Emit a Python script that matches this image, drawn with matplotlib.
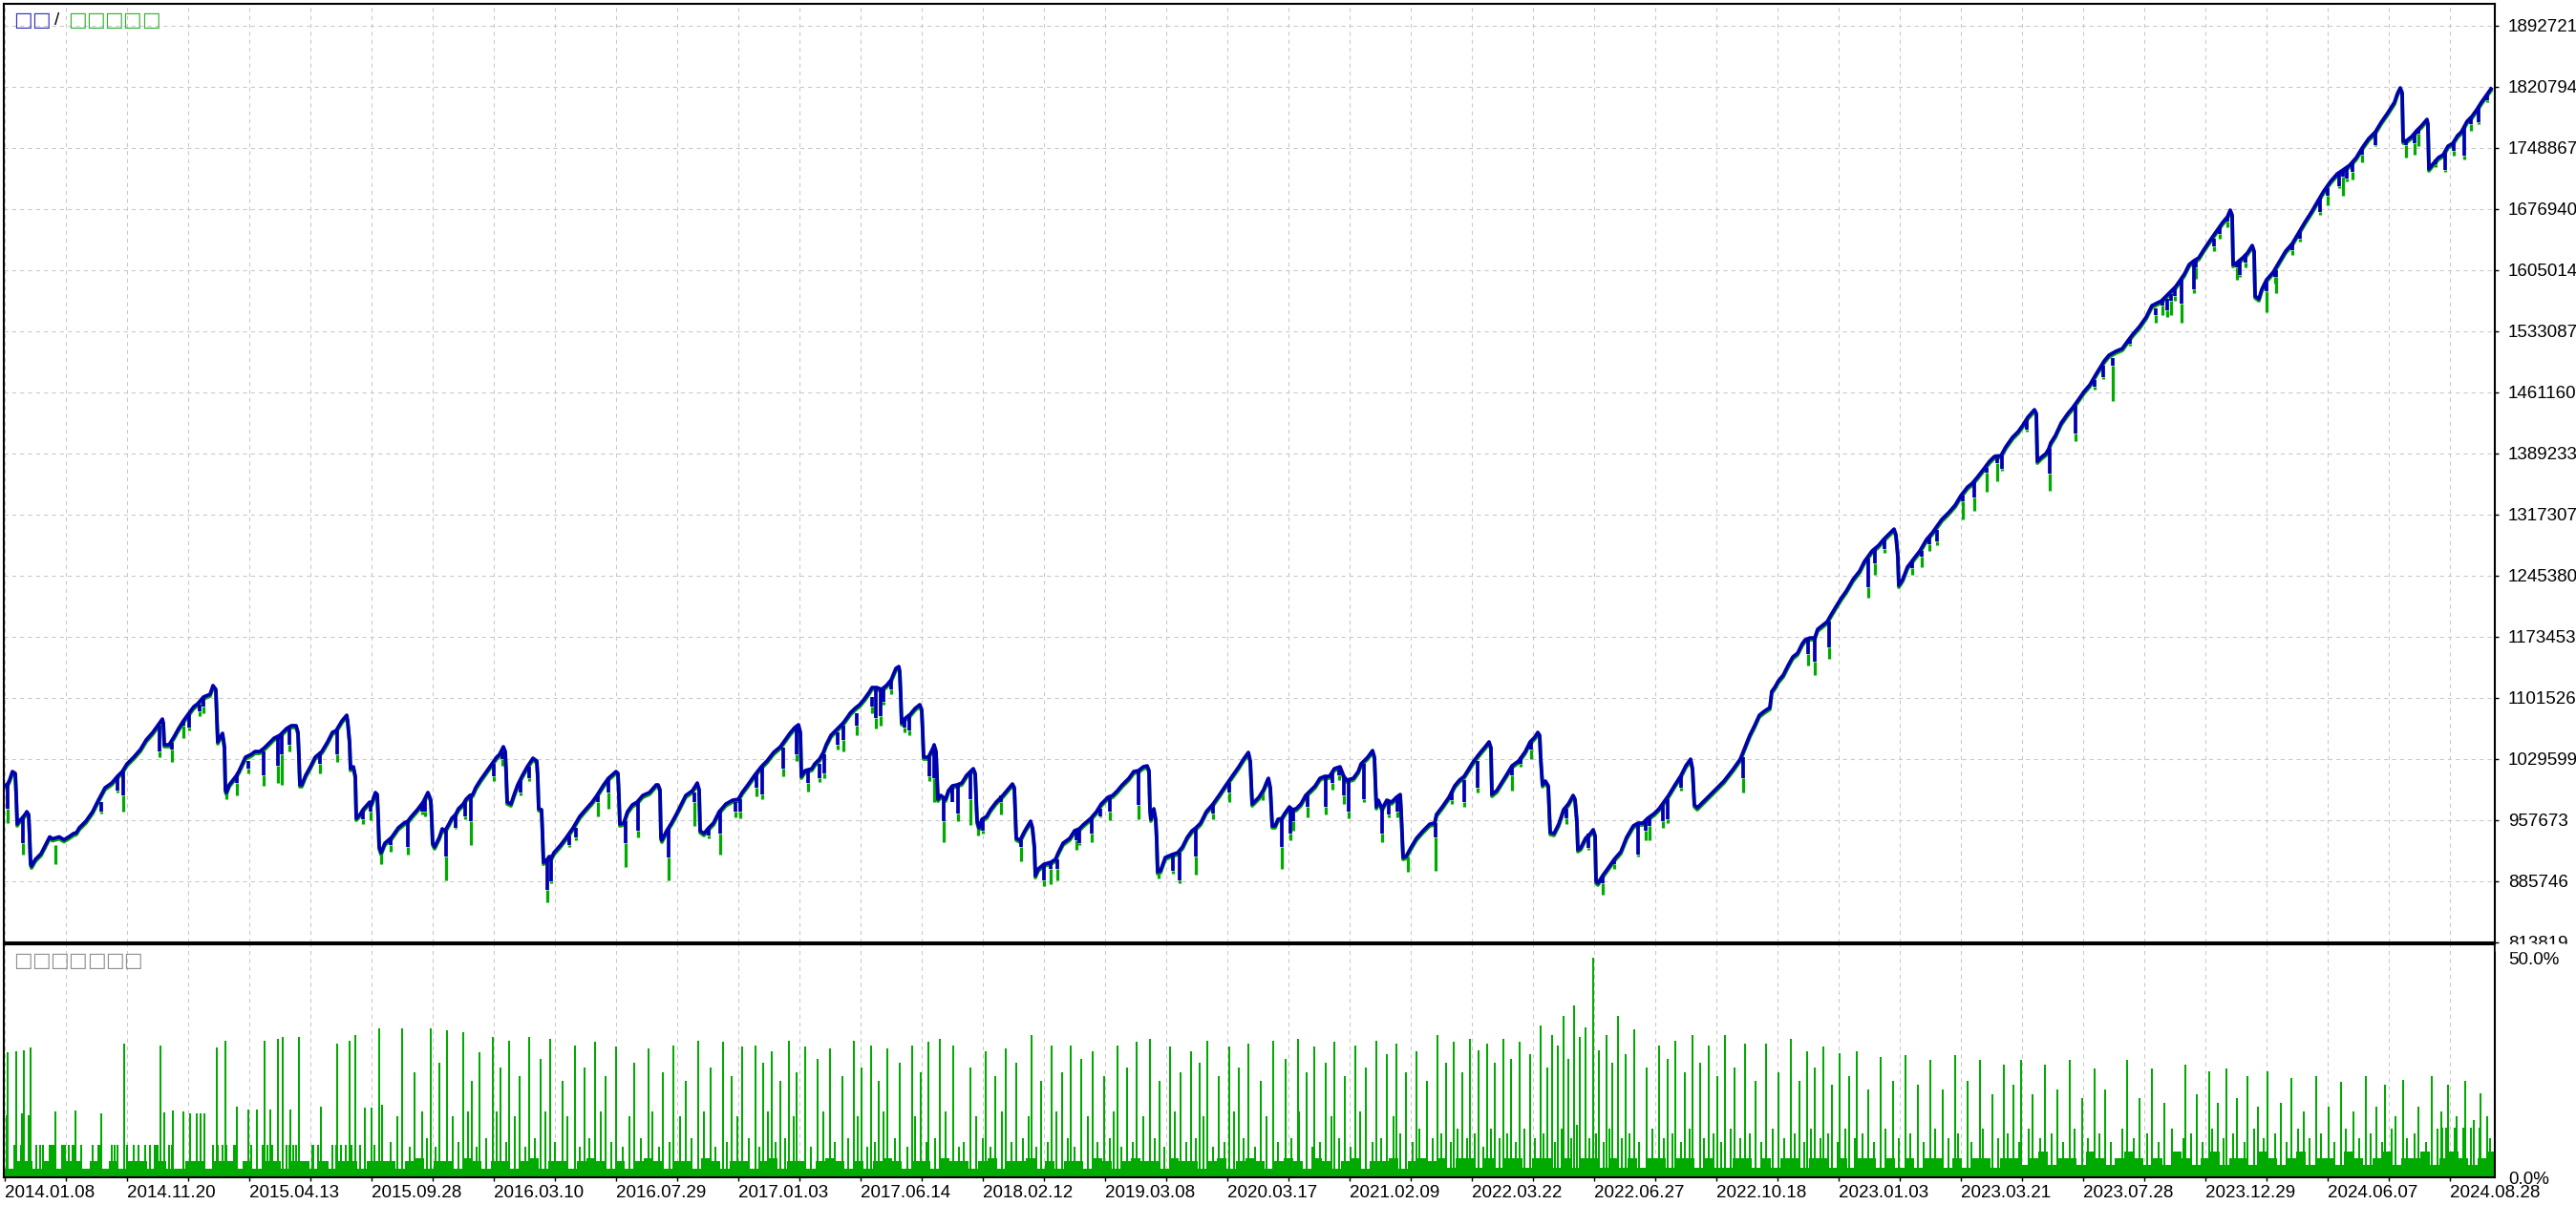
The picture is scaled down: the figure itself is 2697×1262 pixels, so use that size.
import matplotlib
matplotlib.use("Agg")
import matplotlib.pyplot as plt
from matplotlib import transforms
from matplotlib.patches import Rectangle

plt.rcParams['font.family'] = ['Liberation Sans', 'DejaVu Sans']

# ---------------- data ----------------
date_labels = ["2014.01.08", "2014.11.20", "2015.04.13", "2015.09.28", "2016.03.10",
               "2016.07.29", "2017.01.03", "2017.06.14", "2018.02.12", "2019.03.08",
               "2020.03.17", "2021.02.09", "2022.03.22", "2022.06.27", "2022.10.18",
               "2023.01.03", "2023.03.21", "2023.07.28", "2023.12.29", "2024.06.07",
               "2024.08.28"]
balance_ticks = [813819, 885746, 957673, 1029599, 1101526, 1173453, 1245380, 1317307,
                 1389233, 1461160, 1533087, 1605014, 1676940, 1748867, 1820794, 1892721]
load_ticks = [0.0, 50.0]
load_tick_labels = ["0.0%", "50.0%"]

# balance curve: (trade number, balance in thousands)
balance_points = [
    (0, 998.9), (3, 997.8), (6, 1004.5), (9, 1014.6), (12, 1012.4), (13, 986.5), (14, 952.8),
    (16, 956.2), (19, 959.6), (23, 965.2), (24, 967.4), (26, 964.0), (27, 939.3), (28, 906.6),
    (29, 903.2), (33, 911.1), (39, 917.9), (48, 937.7), (51, 935.4), (58, 937.7), (63, 934.3),
    (68, 937.7), (73, 941.6), (76, 942.7), (79, 948.3), (86, 956.2), (93, 967.4), (99, 980.9),
    (106, 995.5), (113, 1001.1), (119, 1009.0), (124, 1014.6), (129, 1023.6), (136, 1031.5),
    (143, 1040.5), (149, 1051.7), (156, 1060.7), (161, 1068.6), (166, 1076.4), (167, 1071.9),
    (168, 1046.1), (173, 1046.1), (178, 1055.1), (183, 1065.2), (188, 1074.2), (193, 1082.0),
    (199, 1091.0), (203, 1094.4), (209, 1102.3), (216, 1105.6), (219, 1115.8), (222, 1111.3),
    (223, 1082.0), (224, 1049.5), (226, 1053.9), (229, 1059.6), (231, 1043.8), (232, 993.3),
    (233, 989.9), (236, 998.9), (243, 1009.0), (246, 1014.6), (253, 1031.5), (259, 1034.8),
    (263, 1038.2), (268, 1038.2), (273, 1042.7), (279, 1049.5), (283, 1053.9), (289, 1057.3),
    (296, 1065.2), (301, 1068.6), (306, 1068.6), (308, 1060.7), (309, 1032.6), (310, 998.9),
    (312, 998.9), (316, 1010.1), (321, 1020.2), (326, 1031.5), (333, 1038.2), (339, 1049.5),
    (344, 1060.7), (348, 1062.9), (354, 1074.2), (359, 1080.9), (360, 1074.2), (362, 1049.5),
    (363, 1018.0), (366, 1020.2), (368, 1009.0), (369, 959.5), (373, 964.1), (376, 969.7),
    (383, 978.6), (385, 976.4), (389, 989.9), (391, 987.6), (392, 959.5), (393, 925.8),
    (395, 919.1), (399, 930.3), (406, 937.1), (413, 948.3), (419, 953.9), (423, 956.2),
    (426, 960.7), (433, 969.7), (439, 978.6), (444, 989.9), (446, 984.3), (447, 981.0),
    (448, 959.5), (449, 930.3), (451, 925.8), (456, 937.1), (459, 947.2), (462, 944.9),
    (466, 952.8), (469, 959.5), (473, 964.1), (476, 970.8), (481, 976.4), (484, 982.0),
    (488, 986.5), (491, 987.6), (494, 995.5), (499, 1004.5), (504, 1012.4), (509, 1020.2),
    (516, 1031.5), (519, 1034.8), (523, 1043.8), (525, 1038.2), (526, 1012.4), (527, 978.6),
    (531, 976.4), (534, 986.5), (538, 998.9), (543, 1010.1), (548, 1020.2), (554, 1030.3),
    (558, 1027.0), (559, 1009.0), (560, 970.8), (563, 969.7), (564, 941.6), (565, 907.7),
    (569, 911.2), (571, 914.5), (574, 914.5), (576, 919.1), (583, 928.1), (589, 937.1),
    (596, 948.3), (603, 961.8), (609, 969.7), (616, 978.6), (621, 986.5), (628, 998.9),
    (633, 1006.7), (641, 1014.6), (643, 1012.4), (644, 986.5), (645, 952.8), (649, 953.9),
    (653, 967.4), (658, 975.3), (663, 978.6), (669, 986.5), (676, 989.9), (683, 998.9),
    (685, 998.9), (687, 993.3), (688, 937.1), (689, 933.7), (694, 944.9), (699, 953.9),
    (704, 964.1), (709, 975.3), (714, 986.5), (721, 992.1), (726, 1001.1), (728, 993.3),
    (729, 944.9), (733, 941.6), (738, 948.3), (743, 953.9), (749, 967.4), (756, 976.4),
    (763, 980.9), (769, 982.0), (773, 989.9), (779, 998.9), (786, 1010.1), (793, 1020.2),
    (799, 1027.0), (806, 1037.1), (813, 1043.8), (818, 1051.7), (823, 1059.6), (828, 1066.3),
    (832, 1069.7), (834, 1060.7), (835, 1009.0), (839, 1015.7), (846, 1018.0), (849, 1023.6),
    (854, 1029.2), (858, 1037.1), (861, 1046.1), (866, 1057.3), (873, 1065.2), (879, 1072.0),
    (884, 1079.8), (886, 1083.2), (891, 1088.8), (896, 1093.3), (901, 1100.0), (906, 1107.9),
    (909, 1113.5), (914, 1113.5), (919, 1111.3), (924, 1115.8), (929, 1122.5), (934, 1136.0),
    (937, 1138.2), (938, 1132.6), (939, 1105.6), (940, 1071.9), (944, 1077.5), (949, 1082.0),
    (954, 1088.8), (959, 1093.3), (961, 1087.7), (962, 1062.9), (963, 1031.5), (968, 1031.5),
    (973, 1042.7), (974, 1046.1), (976, 1038.2), (978, 982.0), (981, 986.5), (986, 982.0),
    (989, 992.1), (993, 997.7), (998, 998.9), (1003, 1001.1), (1008, 1010.1), (1013, 1015.7),
    (1015, 1018.0), (1017, 1012.4), (1019, 956.2), (1021, 948.3), (1024, 958.4), (1029, 961.8),
    (1033, 969.7), (1039, 978.6), (1046, 986.5), (1051, 993.3), (1056, 1000.0), (1058, 995.5),
    (1059, 964.1), (1060, 936.0), (1064, 933.7), (1069, 944.9), (1075, 956.2), (1077, 948.3),
    (1079, 925.8), (1080, 892.0), (1083, 899.9), (1089, 905.5), (1096, 907.7), (1101, 911.2),
    (1104, 919.1), (1109, 930.3), (1116, 936.0), (1121, 944.9), (1126, 947.2), (1131, 952.8),
    (1138, 959.5), (1144, 967.4), (1149, 976.4), (1156, 984.3), (1161, 986.5), (1166, 992.1),
    (1171, 998.9), (1178, 1006.7), (1183, 1014.6), (1188, 1015.7), (1193, 1020.2), (1197, 1021.3),
    (1199, 1015.7), (1200, 969.7), (1201, 958.4), (1204, 970.8), (1206, 958.4), (1207, 936.0),
    (1208, 896.6), (1211, 897.7), (1216, 913.4), (1223, 916.8), (1229, 919.1), (1234, 925.8),
    (1239, 937.1), (1244, 944.9), (1248, 948.3), (1253, 953.9), (1259, 967.4), (1266, 976.4),
    (1273, 987.6), (1279, 997.7), (1286, 1009.0), (1293, 1020.2), (1298, 1029.2), (1303, 1037.1),
    (1305, 1027.0), (1307, 976.4), (1309, 978.6), (1314, 984.3), (1319, 993.3), (1323, 1004.5),
    (1324, 1006.7), (1326, 995.5), (1328, 950.6), (1331, 950.6), (1334, 958.4), (1338, 959.5),
    (1341, 965.2), (1346, 973.0), (1349, 969.7), (1353, 970.8), (1358, 976.4), (1363, 986.5),
    (1368, 992.1), (1373, 997.7), (1378, 1006.7), (1383, 1009.0), (1388, 1009.0), (1393, 1018.0),
    (1399, 1020.2), (1403, 1009.0), (1406, 1004.5), (1413, 1006.7), (1418, 1014.6), (1421, 1023.6),
    (1428, 1031.5), (1433, 1039.3), (1435, 1031.5), (1437, 973.0), (1439, 980.9), (1443, 970.8),
    (1448, 980.9), (1453, 978.6), (1458, 984.3), (1462, 987.6), (1463, 967.4), (1465, 913.4),
    (1468, 914.5), (1473, 924.7), (1479, 936.0), (1486, 944.9), (1493, 952.8), (1498, 953.9),
    (1500, 964.1), (1506, 973.0), (1513, 984.3), (1519, 997.7), (1524, 1004.5), (1529, 1009.0),
    (1534, 1018.0), (1539, 1027.0), (1546, 1037.1), (1551, 1043.8), (1555, 1049.5), (1557, 1042.7),
    (1558, 987.6), (1563, 992.1), (1568, 1001.1), (1573, 1010.1), (1579, 1021.3), (1586, 1027.0),
    (1593, 1038.2), (1598, 1049.5), (1603, 1055.1), (1606, 1060.7), (1608, 1057.3), (1609, 1031.5),
    (1611, 998.9), (1614, 1003.4), (1617, 997.7), (1619, 942.7), (1623, 941.6), (1628, 952.8),
    (1633, 969.7), (1638, 976.4), (1643, 986.5), (1645, 982.0), (1647, 956.2), (1648, 922.5),
    (1651, 924.7), (1656, 936.0), (1661, 941.6), (1664, 946.1), (1666, 939.3), (1667, 885.4),
    (1669, 883.2), (1674, 892.2), (1679, 899.9), (1686, 911.2), (1693, 920.2), (1699, 937.1),
    (1706, 950.6), (1711, 953.9), (1716, 953.9), (1721, 959.5), (1728, 965.2), (1733, 970.8),
    (1738, 978.6), (1743, 986.5), (1749, 997.7), (1756, 1010.1), (1761, 1021.3), (1766, 1029.2),
    (1768, 1018.0), (1770, 975.3), (1773, 971.9), (1781, 980.9), (1791, 992.1), (1801, 1003.4),
    (1811, 1018.0), (1818, 1029.2), (1824, 1046.1), (1828, 1057.3), (1833, 1068.6), (1838, 1080.9),
    (1843, 1085.4), (1849, 1089.9), (1851, 1109.0), (1854, 1113.5), (1858, 1121.4), (1863, 1128.1),
    (1868, 1139.3), (1873, 1149.4), (1878, 1153.9), (1883, 1165.2), (1886, 1169.7), (1891, 1171.9),
    (1896, 1171.9), (1899, 1182.0), (1904, 1186.5), (1909, 1191.0), (1913, 1198.9), (1919, 1210.1),
    (1924, 1219.1), (1929, 1227.0), (1936, 1240.5), (1943, 1250.6), (1948, 1261.8), (1956, 1274.2),
    (1963, 1280.9), (1968, 1287.7), (1974, 1294.4), (1979, 1300.0), (1981, 1293.3), (1983, 1268.6),
    (1984, 1233.7), (1988, 1240.5), (1993, 1255.1), (1999, 1264.1), (2006, 1274.2), (2013, 1287.7),
    (2019, 1295.5), (2029, 1311.3), (2036, 1319.1), (2043, 1328.1), (2049, 1339.4), (2056, 1349.5),
    (2061, 1354.0), (2066, 1360.7), (2073, 1370.8), (2079, 1379.8), (2084, 1385.4), (2091, 1386.5),
    (2096, 1396.7), (2103, 1407.9), (2109, 1414.7), (2114, 1422.5), (2119, 1431.5), (2126, 1440.5),
    (2128, 1436.0), (2129, 1379.8), (2133, 1384.3), (2138, 1388.8), (2141, 1394.4), (2143, 1401.2),
    (2148, 1410.2), (2154, 1424.8), (2161, 1436.0), (2166, 1442.8), (2171, 1450.6), (2178, 1461.9),
    (2184, 1469.7), (2191, 1483.2), (2196, 1492.2), (2199, 1497.8), (2204, 1504.6), (2211, 1509.1),
    (2218, 1512.4), (2223, 1520.3), (2229, 1529.3), (2236, 1538.3), (2243, 1549.5), (2249, 1563.0),
    (2259, 1568.6), (2266, 1576.5), (2274, 1585.5), (2283, 1600.1), (2288, 1611.3), (2293, 1615.8),
    (2298, 1619.2), (2303, 1628.2), (2309, 1638.3), (2316, 1649.5), (2323, 1660.8), (2328, 1667.5),
    (2331, 1675.4), (2333, 1669.7), (2334, 1611.3), (2338, 1613.6), (2344, 1619.2), (2349, 1624.9),
    (2354, 1633.8), (2356, 1627.1), (2357, 1574.2), (2361, 1570.9), (2364, 1582.1), (2369, 1593.4),
    (2376, 1602.4), (2383, 1615.8), (2389, 1627.1), (2396, 1636.1), (2403, 1649.5), (2409, 1660.8),
    (2416, 1673.1), (2423, 1686.6), (2429, 1697.9), (2436, 1709.1), (2443, 1718.1), (2449, 1722.6),
    (2456, 1728.2), (2463, 1737.2), (2469, 1748.4), (2476, 1759.6), (2483, 1767.5), (2489, 1778.7),
    (2496, 1790.0), (2503, 1802.4), (2506, 1812.5), (2509, 1819.3), (2511, 1813.7), (2512, 1756.4),
    (2516, 1757.5), (2521, 1762.0), (2526, 1768.7), (2531, 1774.3), (2537, 1782.2), (2538, 1776.6),
    (2539, 1723.8), (2543, 1729.4), (2549, 1737.2), (2554, 1740.6), (2559, 1750.7), (2564, 1754.1),
    (2569, 1763.1), (2573, 1767.5), (2579, 1780.0), (2584, 1785.6), (2589, 1793.5), (2594, 1802.4),
    (2599, 1810.3), (2604, 1818.2),
]

# intra-trade dips: (trade, level before, balance low, equity low), thousands
dips = [
    (4, 1001.1, 970.8, 953.9), (20, 959.5, 930.3, 916.8), (54, 928.1, 928.1, 905.5),
    (102, 978.6, 967.4, 965.1), (119, 1009.0, 992.1, 989.9), (125, 1014.6, 986.5, 967.4),
    (163, 1068.6, 1038.2, 1031.5), (176, 1048.3, 1040.5, 1025.8), (188, 1074.2, 1068.6, 1053.9),
    (194, 1082.0, 1066.3, 1062.9), (205, 1093.3, 1085.4, 1079.8), (209, 1102.3, 1091.0, 1083.2),
    (233, 989.9, 989.9, 982.0), (244, 1010.1, 1001.1, 986.5), (256, 1026.9, 1018.0, 1012.4),
    (272, 1038.2, 1010.1, 997.7), (287, 1055.1, 1021.3, 1001.1), (291, 1057.3, 1034.8, 998.9),
    (299, 1065.2, 1046.1, 1038.2), (331, 1034.8, 1023.6, 1012.4), (349, 1062.9, 1034.8, 1025.8),
    (376, 969.7, 958.4, 952.8), (384, 976.4, 967.4, 957.3), (395, 919.1, 919.1, 905.5),
    (405, 937.1, 928.1, 920.2), (423, 956.2, 925.8, 916.8), (438, 975.3, 967.4, 964.0),
    (441, 982.0, 967.4, 961.8), (463, 944.9, 914.5, 886.4), (473, 964.0, 948.3, 947.2),
    (483, 978.6, 961.8, 958.4), (489, 986.5, 956.2, 928.1), (513, 1023.6, 1009.0, 1003.4),
    (522, 1037.1, 1029.2, 1021.3), (541, 1003.4, 989.9, 986.5), (550, 1020.2, 1006.7, 1003.4),
    (569, 911.2, 875.2, 860.6), (573, 914.5, 885.4, 883.1), (592, 939.3, 928.1, 925.8),
    (599, 948.3, 937.1, 933.7), (622, 986.5, 978.6, 961.8), (633, 1006.7, 989.9, 970.8),
    (651, 956.2, 930.3, 902.2), (664, 978.6, 944.9, 937.1), (696, 947.2, 913.4, 886.4),
    (723, 989.9, 978.6, 950.5), (738, 948.3, 939.3, 935.9), (750, 967.4, 941.6, 916.8),
    (766, 978.6, 967.4, 960.6), (771, 982.0, 967.4, 959.5), (788, 1012.4, 995.5, 985.4),
    (794, 1020.2, 987.6, 982.0), (816, 1042.7, 1018.0, 1009.0), (830, 1068.6, 1034.8, 1026.9),
    (842, 1015.7, 1001.1, 991.0), (854, 1023.6, 1006.7, 1002.2), (859, 1034.8, 1012.4, 1006.7),
    (873, 1060.7, 1046.1, 1040.4), (879, 1068.6, 1051.7, 1038.2), (893, 1083.1, 1068.6, 1057.3),
    (909, 1102.3, 1091.0, 1083.2), (913, 1113.5, 1077.5, 1065.2), (918, 1113.5, 1079.8, 1068.6),
    (921, 1111.2, 1096.6, 1093.3), (929, 1122.5, 1111.2, 1105.6), (943, 1076.4, 1066.3, 1060.7),
    (948, 1079.8, 1062.9, 1057.3), (969, 1031.5, 1009.0, 1003.4), (974, 1042.7, 1006.7, 978.6),
    (984, 982.0, 956.2, 931.4), (993, 995.5, 978.6, 978.6), (999, 998.9, 965.1, 956.2),
    (1012, 1014.6, 982.0, 951.6), (1020, 948.3, 948.3, 939.3), (1025, 958.4, 944.9, 941.5),
    (1044, 986.5, 978.6, 964.0), (1065, 933.7, 925.8, 908.9), (1089, 905.5, 886.4, 879.7),
    (1096, 907.8, 899.9, 882.0), (1103, 911.2, 899.9, 886.4), (1123, 944.9, 933.7, 922.4),
    (1126, 947.2, 930.3, 928.1), (1139, 959.5, 941.6, 931.4), (1148, 970.8, 961.8, 960.6),
    (1158, 984.3, 967.4, 957.3), (1188, 1015.7, 975.2, 958.4), (1209, 896.6, 896.6, 888.7),
    (1224, 916.8, 897.7, 894.3), (1231, 919.1, 886.4, 883.1), (1248, 948.3, 914.5, 893.2),
    (1266, 976.4, 965.1, 958.4), (1283, 1001.1, 989.9, 978.6), (1318, 989.9, 989.9, 980.9),
    (1338, 959.5, 925.8, 899.9), (1347, 973.0, 941.6, 933.7), (1350, 969.7, 956.2, 944.9),
    (1365, 986.5, 973.0, 960.6), (1384, 1009.0, 973.0, 964.0), (1391, 1012.4, 1001.1, 993.2),
    (1398, 1018.0, 1010.1, 1004.5), (1403, 1009.0, 986.5, 976.4), (1408, 1004.5, 967.4, 959.5),
    (1424, 1023.6, 982.0, 978.6), (1443, 970.8, 941.6, 931.4), (1450, 978.6, 964.0, 960.6),
    (1459, 984.3, 967.4, 960.6), (1470, 914.5, 914.5, 896.6), (1499, 953.9, 937.1, 897.7),
    (1516, 989.9, 980.9, 976.4), (1529, 1004.5, 978.6, 973.0), (1543, 1026.9, 995.5, 989.9),
    (1579, 1021.3, 1010.1, 992.1), (1588, 1031.5, 1023.6, 1020.2), (1599, 1049.4, 1040.4, 1029.2),
    (1636, 970.8, 959.5, 952.8), (1659, 941.5, 924.7, 922.4), (1674, 892.1, 883.1, 869.6),
    (1686, 911.2, 905.6, 899.9), (1711, 953.9, 916.8, 914.5), (1719, 958.4, 944.9, 933.7),
    (1723, 961.8, 950.5, 933.7), (1737, 975.3, 956.2, 948.3), (1742, 982.0, 958.4, 953.9),
    (1756, 1009.0, 995.5, 992.1), (1821, 1031.5, 1006.7, 989.9), (1889, 1169.7, 1152.8, 1139.4),
    (1896, 1171.9, 1143.8, 1128.1), (1911, 1191.0, 1160.7, 1147.2), (1952, 1265.2, 1231.5, 1219.1),
    (1959, 1276.5, 1259.6, 1246.1), (1969, 1287.7, 1276.5, 1272.0), (1998, 1261.8, 1253.9, 1246.1),
    (2008, 1274.2, 1267.5, 1255.1), (2016, 1291.1, 1282.1, 1274.2), (2024, 1298.9, 1285.4, 1280.9),
    (2051, 1339.4, 1332.6, 1311.3), (2063, 1355.1, 1337.1, 1321.4), (2076, 1372.0, 1366.4, 1343.9),
    (2087, 1385.5, 1377.6, 1356.2), (2092, 1386.6, 1370.9, 1368.6), (2118, 1428.2, 1416.9, 1414.7),
    (2142, 1394.5, 1365.3, 1345.0), (2169, 1445.0, 1412.5, 1403.5), (2189, 1475.4, 1467.5, 1464.1),
    (2198, 1492.2, 1478.8, 1476.5), (2208, 1501.2, 1492.2, 1450.7), (2226, 1523.7, 1518.1, 1515.8),
    (2253, 1559.7, 1551.8, 1542.8), (2260, 1568.7, 1563.1, 1551.8), (2265, 1570.9, 1557.4, 1549.6),
    (2269, 1576.5, 1568.7, 1551.8), (2273, 1583.3, 1574.3, 1568.7), (2280, 1593.4, 1565.3, 1542.8),
    (2293, 1615.9, 1582.2, 1577.7), (2295, 1615.9, 1608.0, 1594.5), (2314, 1641.7, 1632.7, 1627.1),
    (2320, 1655.2, 1647.3, 1641.7), (2328, 1667.6, 1661.9, 1655.2), (2338, 1613.6, 1608.0, 1593.4),
    (2341, 1615.9, 1599.0, 1596.8), (2347, 1621.5, 1613.6, 1608.0), (2369, 1591.2, 1579.9, 1555.2),
    (2378, 1602.4, 1596.8, 1588.9), (2379, 1604.6, 1596.8, 1577.7), (2396, 1636.1, 1628.2, 1622.6),
    (2404, 1649.6, 1641.7, 1638.3), (2425, 1690.0, 1673.2, 1669.8), (2433, 1701.3, 1692.3, 1681.0),
    (2445, 1720.4, 1703.5, 1701.3), (2449, 1722.6, 1714.8, 1692.3), (2453, 1726.0, 1712.5, 1709.2),
    (2459, 1731.6, 1720.4, 1711.4), (2469, 1748.5, 1740.6, 1731.6), (2483, 1767.6, 1751.9, 1750.7),
    (2515, 1757.5, 1751.9, 1737.3), (2524, 1765.4, 1754.1, 1740.6), (2528, 1771.0, 1765.4, 1750.7),
    (2546, 1735.0, 1729.4, 1726.0), (2556, 1742.9, 1722.6, 1720.4), (2565, 1754.1, 1745.1, 1739.5),
    (2576, 1774.3, 1739.5, 1735.0), (2583, 1785.6, 1776.6, 1768.7), (2591, 1796.8, 1778.8, 1776.6),
    (2600, 1810.3, 1804.7, 1802.4),
]

# deposit load (%) -- tall spikes
load_tall = [
    (4, 28.5), (13, 28.7), (21, 29.0), (28, 29.5), (126, 30.5), (164, 30.0), (223, 29.5),
    (232, 31.0), (273, 31.0), (287, 31.5), (292, 32.0), (309, 32.0), (349, 30.5), (362, 31.0),
    (368, 32.5), (393, 34.0), (417, 34.0), (447, 34.0), (464, 33.5), (481, 33.0), (498, 28.5),
    (512, 32.0), (529, 31.0), (550, 32.0), (572, 31.5), (598, 30.0), (619, 30.8), (641, 29.7),
    (675, 29.3), (701, 30.0), (727, 31.0), (753, 30.8), (773, 29.7), (787, 30.0), (804, 28.6),
    (822, 31.0), (839, 29.7), (865, 29.3), (890, 31.0), (908, 30.0), (925, 29.3), (951, 30.0),
    (968, 30.8), (980, 31.6), (994, 30.0), (1028, 28.6), (1049, 29.3), (1076, 32.3), (1097, 30.0),
    (1117, 30.0), (1140, 28.6), (1166, 30.0), (1186, 30.8), (1200, 31.6), (1221, 29.7),
    (1243, 28.6), (1260, 31.2), (1283, 29.7), (1303, 30.4), (1329, 31.2), (1355, 31.6),
    (1372, 29.7), (1393, 30.8), (1415, 30.0), (1437, 31.2), (1458, 30.4), (1479, 28.6),
    (1501, 32.3), (1518, 30.8), (1535, 31.6), (1553, 30.4), (1570, 31.6), (1587, 30.8),
    (1609, 34.6), (1621, 32.3), (1633, 36.8), (1644, 39.1), (1656, 34.2), (1664, 50.0),
    (1678, 32.3), (1690, 36.8), (1707, 33.8), (1733, 30.0), (1750, 31.2), (1768, 32.3),
    (1785, 30.0), (1802, 32.3), (1823, 30.4), (1845, 30.4), (1871, 31.6), (1888, 28.6),
    (1905, 29.7), (1922, 28.2), (1940, 28.6), (1965, 27.4), (1991, 27.8), (2017, 26.7),
    (2043, 27.8), (2069, 26.7), (2094, 25.6), (2112, 26.7), (2137, 25.6), (2163, 26.7),
    (2189, 24.8), (2223, 26.7), (2249, 24.8), (2284, 25.6), (2309, 24.1), (2327, 24.8),
    (2349, 23.0), (2370, 24.1), (2395, 22.6), (2421, 23.0), (2447, 21.8), (2473, 23.0),
    (2493, 21.1), (2512, 22.2), (2542, 23.0), (2559, 21.1), (2577, 22.0), (2593, 19.2),
]
# deposit load (%) -- intermediate spikes
load_mid = [
    (3, 14.2), (19, 14.6), (26, 14.2), (54, 15.0), (75, 15.2), (102, 14.6), (168, 14.8),
    (177, 15.2), (188, 15.0), (195, 14.6), (202, 14.6), (206, 14.6), (210, 14.6), (244, 16.0),
    (256, 15.4), (265, 15.4), (279, 15.4), (300, 15.4), (332, 16.0), (378, 15.8), (385, 15.8),
    (396, 16.5), (430, 24), (456, 26), (490, 22), (520, 25), (540, 23), (562, 27), (585, 22),
    (608, 25), (630, 23), (660, 26), (690, 24), (714, 22), (740, 25), (762, 23), (795, 26),
    (813, 22), (830, 24), (852, 27), (878, 23), (898, 25), (916, 22), (938, 26), (960, 24),
    (1012, 25), (1038, 23), (1060, 26), (1086, 22), (1108, 24), (1128, 27), (1152, 23),
    (1176, 25), (1210, 22), (1232, 24), (1252, 26), (1272, 23), (1293, 25), (1316, 22),
    (1342, 27), (1364, 24), (1384, 26), (1404, 23), (1426, 25), (1448, 28), (1468, 24),
    (1490, 22), (1510, 26), (1527, 24), (1544, 29), (1561, 26), (1578, 27), (1598, 28),
    (1616, 25), (1627, 30), (1638, 27), (1650, 32), (1670, 29), (1684, 26), (1698, 28),
    (1720, 25), (1742, 27), (1760, 24), (1776, 26), (1794, 23), (1812, 25), (1834, 22),
    (1858, 24), (1880, 22), (1896, 25), (1914, 21), (1932, 23), (1952, 20), (1978, 22),
    (2004, 21), (2030, 20), (2056, 22), (2082, 19), (2104, 21), (2124, 19), (2150, 20),
    (2176, 18), (2200, 20), (2236, 18), (2262, 17), (2296, 19), (2318, 17), (2338, 18),
    (2360, 16), (2384, 17), (2408, 15), (2434, 16), (2460, 15), (2484, 16), (2504, 14),
    (2528, 16), (2552, 15), (2568, 14), (2586, 13), (2600, 14),
]
# deposit load (%) -- small spikes
load_small = [
    (11, 7.4), (18, 7.4), (34, 7.4), (38, 7.4), (41, 7.4), (48, 7.4), (49, 7.4), (51, 7.4),
    (53, 7.4), (61, 7.4), (63, 7.4), (64, 7.4), (68, 7.4), (72, 7.4), (74, 7.4), (81, 7.4),
    (93, 7.4), (99, 7.4), (101, 7.4), (113, 7.4), (116, 7.4), (119, 7.4), (129, 7.4), (136, 7.4),
    (141, 7.4), (148, 7.4), (153, 7.4), (158, 7.4), (159, 7.4), (161, 7.4), (173, 7.4), (176, 7.4),
    (219, 7.4), (224, 7.4), (229, 7.4), (233, 7.4), (241, 7.4), (243, 7.4), (259, 7.4), (271, 7.4),
    (276, 7.4), (281, 7.4), (296, 7.4), (299, 7.4), (303, 7.4), (306, 7.4), (323, 7.4), (324, 7.4),
    (329, 7.4), (344, 7.4), (348, 7.4), (353, 7.4), (358, 7.4), (364, 7.4), (373, 7.4), (388, 7.4),
    (405, 8), (412, 14), (425, 7), (438, 15), (443, 9), (452, 7), (470, 14), (476, 8), (486, 15),
    (495, 7), (505, 9), (516, 15), (526, 8), (535, 14), (546, 7), (556, 9), (567, 15), (577, 8),
    (590, 14), (603, 7), (613, 9), (625, 15), (636, 8), (648, 7), (655, 14), (667, 9), (679, 15),
    (686, 7), (697, 8), (708, 14), (720, 9), (733, 15), (745, 7), (757, 8), (768, 14), (780, 9),
    (791, 7), (800, 15), (808, 8), (818, 9), (827, 14), (845, 7), (858, 15), (870, 8), (884, 9),
    (894, 14), (904, 7), (912, 8), (921, 15), (933, 9), (946, 7), (954, 14), (966, 8), (975, 9),
    (986, 15), (1000, 7), (1005, 8), (1018, 14), (1025, 9), (1033, 7), (1045, 15), (1055, 8),
    (1067, 9), (1073, 14), (1081, 7), (1093, 8), (1102, 15), (1114, 9), (1121, 7), (1135, 14),
    (1145, 8), (1158, 9), (1162, 15), (1170, 7), (1182, 8), (1193, 14), (1205, 9), (1215, 7),
    (1226, 15), (1238, 8), (1248, 9), (1256, 14), (1266, 7), (1278, 8), (1288, 15), (1298, 9),
    (1310, 7), (1322, 14), (1334, 8), (1348, 9), (1356, 15), (1370, 7), (1378, 8), (1390, 14),
    (1398, 9), (1410, 7), (1420, 15), (1433, 8), (1442, 9), (1455, 14), (1462, 10), (1475, 8),
    (1482, 11), (1496, 9), (1505, 10), (1515, 8), (1522, 11), (1532, 9), (1540, 10), (1549, 7),
    (1557, 11), (1566, 9), (1574, 10), (1583, 8), (1592, 11), (1603, 9), (1612, 10), (1624, 8),
    (1631, 11), (1641, 9), (1647, 12), (1660, 9), (1667, 10), (1675, 8), (1681, 11), (1694, 9),
    (1702, 10), (1712, 8), (1726, 11), (1738, 9), (1747, 10), (1756, 8), (1765, 11), (1780, 9),
    (1790, 10), (1798, 8), (1808, 11), (1818, 9), (1828, 10), (1840, 8), (1852, 11), (1864, 9),
    (1875, 10), (1885, 8), (1892, 11), (1902, 9), (1910, 10), (1920, 8), (1928, 11), (1938, 9),
    (1946, 10), (1958, 8), (1970, 11), (1984, 9), (1996, 10), (2010, 8), (2022, 11), (2036, 9),
    (2046, 10), (2060, 8), (2072, 11), (2088, 9), (2098, 10), (2110, 8), (2120, 11), (2132, 9),
    (2144, 10), (2156, 8), (2168, 11), (2182, 9), (2194, 10), (2206, 8), (2218, 11), (2230, 9),
    (2244, 10), (2256, 8), (2270, 11), (2282, 9), (2290, 10), (2302, 8), (2312, 11), (2324, 9),
    (2334, 10), (2346, 8), (2356, 11), (2366, 9), (2378, 10), (2390, 8), (2402, 11), (2414, 9),
    (2426, 10), (2440, 8), (2452, 11), (2466, 9), (2478, 10), (2490, 8), (2500, 11), (2516, 9),
    (2524, 10), (2536, 8), (2548, 11), (2553, 11.4), (2557, 11.4), (2566, 11.4), (2575, 11.4),
    (2583, 11.4), (2592, 11.4), (2603, 9),
]
# deposit load (%) -- background level per block of 10 trades
load_base = [
    2.0, 3.7, 3.7, 2.0, 3.7, 2.0, 3.7, 3.7, 2.0, 3.7, 2.0, 3.7, 2.0, 3.7, 3.7, 2.0, 3.7, 2.0, 2.0, 3.7,
    3.7, 2.0, 3.7, 3.7, 2.0, 3.7, 2.0, 3.7, 3.7, 2.0, 3.7, 3.7, 2.0, 3.7, 2.0, 3.7, 3.7, 2.0, 3.7, 3.7,
    3.7, 2.0, 3.7, 4.4, 2.0, 3.7, 3.7, 2.0, 4.4, 3.7, 2.0, 3.7, 3.7, 2.0, 3.7, 4.4, 2.0, 3.7, 3.7, 2.0,
    3.7, 4.4, 3.7, 2.0, 3.7, 2.0, 3.7, 4.4, 3.7, 2.0, 3.7, 3.7, 2.0, 4.4, 3.7, 2.0, 3.7, 3.7, 2.0, 3.7,
    4.4, 2.0, 3.7, 3.7, 2.0, 3.7, 4.4, 3.7, 2.0, 3.7, 2.0, 3.7, 4.4, 3.7, 2.0, 3.7, 3.7, 2.0, 4.4, 3.7,
    3.7, 2.0, 3.7, 4.4, 2.0, 3.7, 3.7, 4.4, 2.0, 3.7, 2.0, 3.7, 3.7, 2.0, 4.4, 3.7, 2.0, 3.7, 4.4, 3.7,
    3.7, 2.0, 4.4, 3.7, 3.7, 2.0, 3.7, 4.4, 2.0, 3.7, 4.4, 3.7, 2.0, 3.7, 4.4, 3.7, 2.0, 4.4, 3.7, 2.0,
    3.7, 4.4, 2.0, 3.7, 3.7, 4.4, 2.0, 3.7, 4.4, 3.7,
    4.4, 2.2, 4.4, 4.4, 2.2, 4.4, 2.2, 4.4, 4.4, 2.2, 4.4, 4.4, 2.2, 4.4, 2.2, 4.4, 4.4, 2.2, 4.4, 2.2,
    4.4, 2.2, 4.4, 4.4, 2.2, 4.4, 4.4, 2.2, 4.4, 2.2, 2.2, 4.4, 4.4, 2.2, 4.4, 2.2, 4.4, 4.4, 2.2, 4.4,
    4.4, 2.2, 4.4, 2.2, 4.4, 4.4, 2.2, 4.4, 2.2, 4.4, 2.2, 4.4, 4.4, 2.2, 4.4, 2.2, 4.4, 4.4, 2.2, 4.4,
    4.4, 2.8, 4.4, 5.9, 2.8, 4.4, 4.4, 2.8, 5.9, 4.4, 2.8, 4.4, 5.9, 4.4, 2.8, 4.4, 2.8, 5.9, 4.4, 2.8,
    4.4, 5.9, 2.8, 4.4, 4.4, 2.8, 5.9, 4.4, 2.8, 4.4, 5.9, 2.8, 4.4, 4.4, 2.8, 5.9, 4.4, 2.8, 4.4, 5.9,
    2.8, 4.4, 4.4, 5.9, 2.8, 4.4, 5.9, 4.4, 2.8, 4.4, 5.9,
]

# ---------------- drawing ----------------
W, H = 2697, 1262
fig = plt.figure(figsize=(W / 100, H / 100), dpi=100)
ax = fig.add_axes([4 / W, 1 - 987 / H, 2608 / W, 983 / H])
ax2 = fig.add_axes([4 / W, 1 - 1233 / H, 2608 / W, 244 / H])

BLUE = '#0000b0'
GREEN = '#00aa00'
GRID = '#c8c8c8'
NTRADES = 2608
LW = 2.7
grid_pos = list(range(1, NTRADES + 1, 64))
label_pos = list(range(1, NTRADES + 1, 128))[:len(date_labels)]

bx = [p[0] for p in balance_points]
by = [p[1] * 1000 for p in balance_points]

off = transforms.offset_copy(ax.transData, fig=fig, x=0, y=-2.0, units='dots')
ax.plot(bx, by, color=GREEN, lw=LW, transform=off, zorder=2)
g = [d for d in dips if d[3] < d[2]]
ax.vlines([d[0] for d in g], [d[3] * 1000 for d in g], [d[2] * 1000 for d in g],
          color=GREEN, lw=2.3, zorder=2)
ax.plot(bx, by, color=BLUE, lw=LW, zorder=3)
b = [d for d in dips if d[2] < d[1]]
ax.vlines([d[0] for d in b], [d[2] * 1000 for d in b], [d[1] * 1000 for d in b],
          color=BLUE, lw=LW, zorder=3)

ax.set_xlim(0, NTRADES)
ax.set_ylim(813480, 1918230)
ax.set_yticks(balance_ticks)
ax.set_yticklabels([str(v) for v in balance_ticks])
ax.yaxis.tick_right()
ax.tick_params(axis='y', length=3, width=1, pad=7, labelsize=13.5, direction='out')
ax.set_xticks(grid_pos)
ax.tick_params(axis='x', length=0, labelbottom=False)
ax.set_axisbelow(True)
ax.grid(True, color=GRID, lw=0.75, ls=(0, (4, 4)))
for s in ax.spines.values():
    s.set_linewidth(1.5)

# lower panel
ax2.bar([i * 10 for i in range(len(load_base))], load_base, width=10, align='edge',
        color=GREEN, linewidth=0)
for lst in (load_small, load_mid, load_tall):
    ax2.bar([p[0] for p in lst], [p[1] for p in lst], width=2, color=GREEN, linewidth=0)
ax2.set_xlim(0, NTRADES)
ax2.set_ylim(0, 53.06)
ax2.set_yticks(load_ticks)
ax2.set_yticklabels(load_tick_labels)
ax2.yaxis.tick_right()
ax2.tick_params(axis='y', length=0, pad=10, labelsize=13.5)
ax2.set_xticks(label_pos)
ax2.set_xticklabels(date_labels)
ax2.set_xticks([p for p in grid_pos if p not in label_pos], minor=True)
ax2.tick_params(axis='x', which='both', length=3, width=1, pad=3, labelsize=13.5, direction='out')
for lbl in ax2.get_xticklabels():
    lbl.set_horizontalalignment('left')
ax2.set_axisbelow(True)
ax2.grid(True, axis='x', which='both', color=GRID, lw=0.75, ls=(0, (4, 4)))
for s in ax2.spines.values():
    s.set_linewidth(1.5)

# cover the lower half of the clipped bottom label
fig.add_artist(Rectangle((2613 / W, 1 - 995.5 / H), (W - 2613) / W, 6.5 / H,
                         transform=fig.transFigure, color='white', zorder=5))

# titles (missing-glyph boxes as in the original)
BOX = '\u25a1'
for i in range(2):
    fig.text((14 + 19.3 * i) / W, 1 - 21 / H, BOX, color='#3030c0', fontsize=15,
             va='center', ha='left', family='DejaVu Sans')
fig.text(57 / W, 1 - 21 / H, '/', color='black', fontsize=13.5, va='center', ha='left')
for i in range(5):
    fig.text((71 + 19.2 * i) / W, 1 - 21 / H, BOX, color='#30b030', fontsize=15,
             va='center', ha='left', family='DejaVu Sans')
for i in range(7):
    fig.text((14 + 19.2 * i) / W, 1 - 1006 / H, BOX, color='#909090', fontsize=15,
             va='center', ha='left', family='DejaVu Sans')

fig.savefig('out.png', dpi=100)
